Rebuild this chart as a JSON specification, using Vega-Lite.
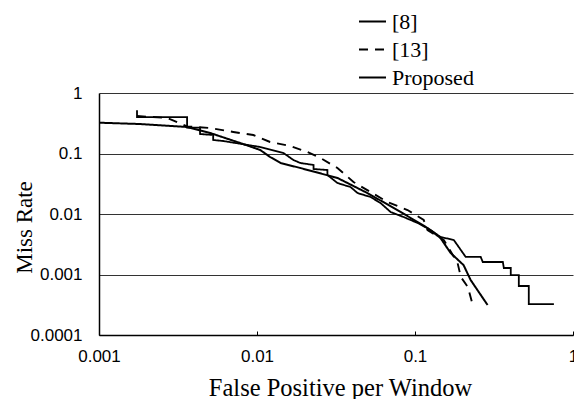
{
  "$schema": "https://vega.github.io/schema/vega-lite/v6.json",
  "autosize": {"type": "none"},
  "padding": {"left": 99, "top": 93, "right": 1, "bottom": 64},
  "width": 474,
  "height": 242,
  "background": "white",
  "config": {"view": {"stroke": null}},
  "data": {"values": [
    {"s": "[8]", "x": 0.00174, "y": 0.52},
    {"s": "[8]", "x": 0.00174, "y": 0.40},
    {"s": "[8]", "x": 0.00361, "y": 0.40},
    {"s": "[8]", "x": 0.00361, "y": 0.267},
    {"s": "[8]", "x": 0.00436, "y": 0.267},
    {"s": "[8]", "x": 0.00436, "y": 0.210},
    {"s": "[8]", "x": 0.00528, "y": 0.202},
    {"s": "[8]", "x": 0.00528, "y": 0.167},
    {"s": "[8]", "x": 0.0061, "y": 0.161},
    {"s": "[8]", "x": 0.0105, "y": 0.128},
    {"s": "[8]", "x": 0.0147, "y": 0.102},
    {"s": "[8]", "x": 0.0170, "y": 0.078},
    {"s": "[8]", "x": 0.0188, "y": 0.0697},
    {"s": "[8]", "x": 0.0228, "y": 0.0646},
    {"s": "[8]", "x": 0.0228, "y": 0.0554},
    {"s": "[8]", "x": 0.0279, "y": 0.0533},
    {"s": "[8]", "x": 0.0279, "y": 0.0441},
    {"s": "[8]", "x": 0.0323, "y": 0.0325},
    {"s": "[8]", "x": 0.0391, "y": 0.0279},
    {"s": "[8]", "x": 0.0433, "y": 0.0222},
    {"s": "[8]", "x": 0.0523, "y": 0.0191},
    {"s": "[8]", "x": 0.0605, "y": 0.0152},
    {"s": "[8]", "x": 0.070, "y": 0.0108},
    {"s": "[8]", "x": 0.0847, "y": 0.00891},
    {"s": "[8]", "x": 0.104, "y": 0.0071},
    {"s": "[8]", "x": 0.1256, "y": 0.00544},
    {"s": "[8]", "x": 0.145, "y": 0.00417},
    {"s": "[8]", "x": 0.176, "y": 0.00372},
    {"s": "[8]", "x": 0.2094, "y": 0.00195},
    {"s": "[8]", "x": 0.2606, "y": 0.00195},
    {"s": "[8]", "x": 0.2685, "y": 0.00161},
    {"s": "[8]", "x": 0.3597, "y": 0.00161},
    {"s": "[8]", "x": 0.365, "y": 0.00128},
    {"s": "[8]", "x": 0.4037, "y": 0.00128},
    {"s": "[8]", "x": 0.4037, "y": 0.00098},
    {"s": "[8]", "x": 0.454, "y": 0.00098},
    {"s": "[8]", "x": 0.454, "y": 0.000646},
    {"s": "[8]", "x": 0.525, "y": 0.000646},
    {"s": "[8]", "x": 0.525, "y": 0.000325},
    {"s": "[8]", "x": 0.757, "y": 0.000325},
    {"s": "[13]", "x": 0.00174, "y": 0.417},
    {"s": "[13]", "x": 0.0027, "y": 0.386},
    {"s": "[13]", "x": 0.00361, "y": 0.28},
    {"s": "[13]", "x": 0.00506, "y": 0.264},
    {"s": "[13]", "x": 0.00708, "y": 0.227},
    {"s": "[13]", "x": 0.00948, "y": 0.202},
    {"s": "[13]", "x": 0.0121, "y": 0.155},
    {"s": "[13]", "x": 0.0163, "y": 0.133},
    {"s": "[13]", "x": 0.0208, "y": 0.106},
    {"s": "[13]", "x": 0.0252, "y": 0.0843},
    {"s": "[13]", "x": 0.0323, "y": 0.0576},
    {"s": "[13]", "x": 0.0408, "y": 0.0338},
    {"s": "[13]", "x": 0.0523, "y": 0.0231},
    {"s": "[13]", "x": 0.067, "y": 0.0158},
    {"s": "[13]", "x": 0.0897, "y": 0.01164},
    {"s": "[13]", "x": 0.1135, "y": 0.00796},
    {"s": "[13]", "x": 0.120, "y": 0.00544},
    {"s": "[13]", "x": 0.152, "y": 0.00372},
    {"s": "[13]", "x": 0.186, "y": 0.00155},
    {"s": "[13]", "x": 0.195, "y": 0.00091},
    {"s": "[13]", "x": 0.216, "y": 0.00062},
    {"s": "[13]", "x": 0.232, "y": 0.000313},
    {"s": "Proposed", "x": 0.001, "y": 0.323},
    {"s": "Proposed", "x": 0.00182, "y": 0.307},
    {"s": "Proposed", "x": 0.00361, "y": 0.274},
    {"s": "Proposed", "x": 0.00506, "y": 0.218},
    {"s": "Proposed", "x": 0.00783, "y": 0.149},
    {"s": "Proposed", "x": 0.0105, "y": 0.114},
    {"s": "Proposed", "x": 0.0121, "y": 0.0875},
    {"s": "Proposed", "x": 0.0141, "y": 0.0697},
    {"s": "Proposed", "x": 0.0188, "y": 0.0576},
    {"s": "Proposed", "x": 0.0323, "y": 0.0394},
    {"s": "Proposed", "x": 0.050, "y": 0.0222},
    {"s": "Proposed", "x": 0.0811, "y": 0.0108},
    {"s": "Proposed", "x": 0.120, "y": 0.00587},
    {"s": "Proposed", "x": 0.145, "y": 0.00401},
    {"s": "Proposed", "x": 0.168, "y": 0.00227},
    {"s": "Proposed", "x": 0.203, "y": 0.00143},
    {"s": "Proposed", "x": 0.225, "y": 0.00081},
    {"s": "Proposed", "x": 0.288, "y": 0.000313}
  ]},
  "mark": {"type": "line", "color": "black", "strokeCap": "butt"},
  "encoding": {
    "x": {
      "field": "x", "type": "quantitative",
      "scale": {"type": "log", "domain": [0.001, 1], "nice": false},
      "axis": {
        "values": [0.001, 0.01, 0.1, 1], "format": "~g",
        "grid": false, "domainColor": "black", "domainWidth": 1.5,
        "ticks": true, "tickSize": -4, "tickColor": "black",
        "labelFont": "Liberation Sans", "labelFontSize": 17, "labelColor": "black",
        "labelPadding": 17, "labelFlush": false,
        "title": "False Positive per Window",
        "titleFont": "Liberation Serif", "titleFontSize": 24.5, "titleFontWeight": "normal",
        "titleColor": "black", "titleX": 241, "titleY": 60, "titleAlign": "center",
        "titleBaseline": "alphabetic", "titleAnchor": null
      }
    },
    "y": {
      "field": "y", "type": "quantitative",
      "scale": {"type": "log", "domain": [0.0001, 1], "nice": false},
      "axis": {
        "values": [1, 0.1, 0.01, 0.001, 0.0001], "format": "~g",
        "grid": true, "gridColor": "#333", "gridWidth": 1, "gridOpacity": 1,
        "domainColor": "black", "domainWidth": 1.5,
        "ticks": false, "labelPadding": 17,
        "labelFont": "Liberation Sans", "labelFontSize": 17, "labelColor": "black",
        "title": "Miss Rate",
        "titleFont": "Liberation Serif", "titleFontSize": 23, "titleFontWeight": "normal",
        "titleColor": "black", "titleX": -68, "titleY": 134, "titleAngle": -90,
        "titleAlign": "center", "titleBaseline": "alphabetic", "titleAnchor": null
      }
    },
    "order": [{"field": "x", "type": "quantitative"}, {"field": "y", "type": "quantitative", "sort": "descending"}],
    "detail": {"field": "s"},
    "strokeDash": {
      "field": "s", "type": "nominal",
      "scale": {"domain": ["[8]", "[13]", "Proposed"], "range": [[1, 0], [9, 7], [1, 0]]},
      "legend": {
        "title": null, "orient": "none", "legendX": 259, "legendY": -86,
        "symbolType": "stroke", "symbolSize": 729, "symbolStrokeColor": "black",
        "symbolStrokeWidth": 1.5, "labelFont": "Liberation Serif", "labelFontSize": 22,
        "labelColor": "black", "labelOffset": 5, "rowPadding": 2
      }
    },
    "strokeWidth": {
      "field": "s", "type": "nominal",
      "scale": {"domain": ["[8]", "[13]", "Proposed"], "range": [1.8, 2, 3]},
      "legend": null
    }
  }
}
